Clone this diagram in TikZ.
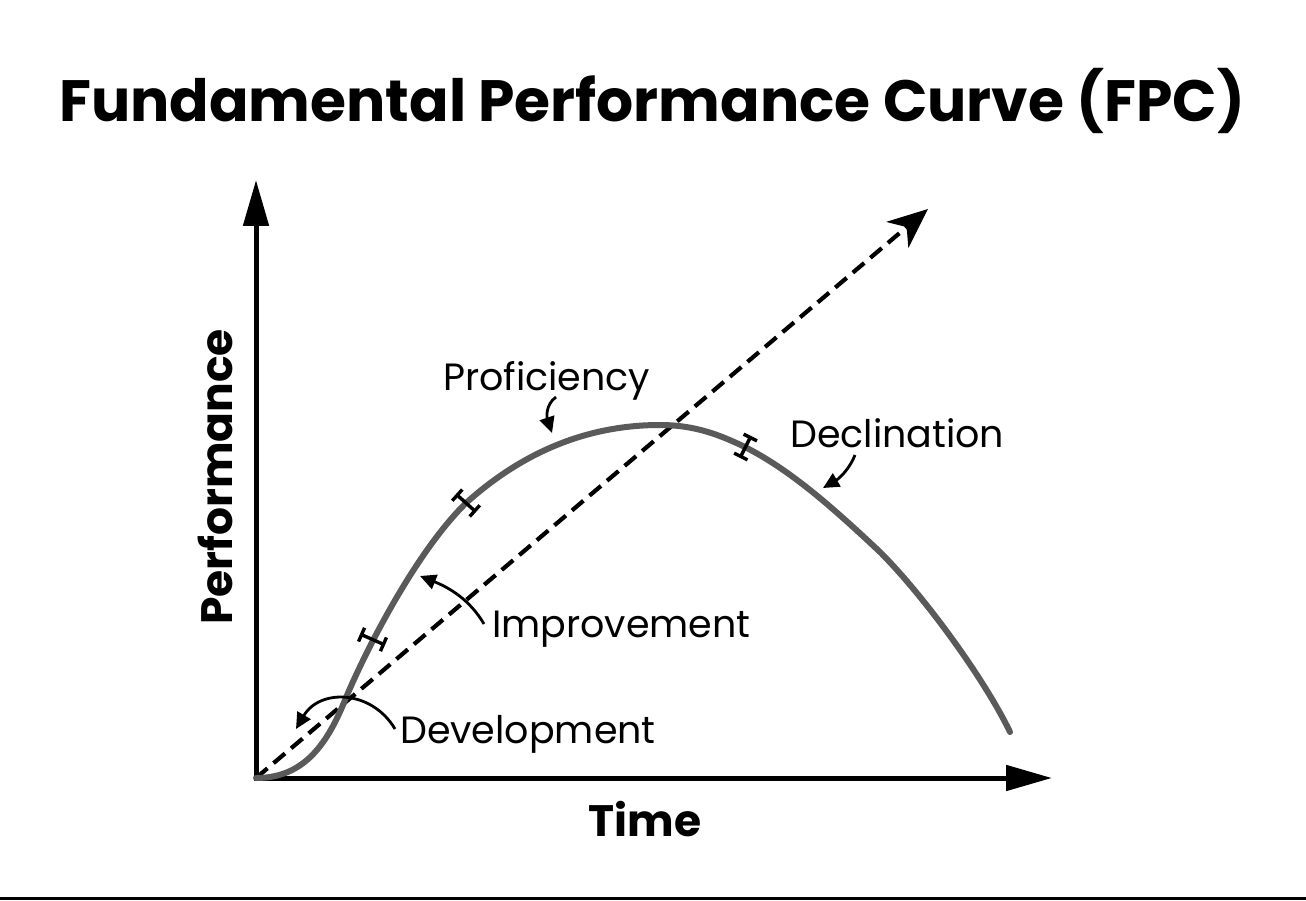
\documentclass[tikz,border=0pt]{standalone}
\usepackage{fontspec}
\setmainfont{Poppins}
\usetikzlibrary{arrows.meta,calc}
\definecolor{curvegray}{HTML}{5A5A5A}
\begin{document}
\begin{tikzpicture}[x=1pt,y=-1pt,
  axis/.style={line width=5pt,-{Triangle[length=46pt,width=25pt]}},
  trend/.style={line width=4.2pt,dash pattern=on 15pt off 8pt,-{Stealth[length=40pt,width=34pt,inset=12pt]}},
  fpc/.style={line width=6pt,curvegray,line cap=round,line join=round},
  tickbar/.style={line width=3.4pt,{Bar[width=15pt,line width=3.4pt]}-{Bar[width=15pt,line width=3.4pt]}},
  pointer/.style={line width=2.8pt,-{Triangle[length=16pt,width=15pt]}},
  lbl/.style={inner sep=0pt,font=\fontsize{38}{46}\selectfont},
  axlbl/.style={inner sep=0pt,font=\fontsize{44}{52}\selectfont\bfseries},
]
\useasboundingbox (0,0) rectangle (1306,901);
\fill[white] (0,0) rectangle (1306,901);
% title
\node[inner sep=0pt,anchor=base,font=\fontsize{58.3}{68}\selectfont\bfseries] (title) at (652,122) {Fundamental Performance Curve (FPC)};
% bottom rule
\draw[line width=3pt] (0,898.5) -- (1306,898.5);
% axes
\coordinate (O) at (256,778);
\coordinate (ytip) at (256,180);
\coordinate (xtip) at (1052,778);
\coordinate (dtip) at (928,209);
\draw[axis] (256,780.5) -- (ytip);
\draw[axis] (253.5,778) -- (xtip);
\node[axlbl,anchor=base] (time) at (645,836) {Time};
\node[axlbl,anchor=base,rotate=90] (perf) at (232,477) {Performance};
% trend line
\draw[trend] (O) -- (dtip);
% curve
\coordinate (A) at (256,778);
\coordinate (B) at (345,700);
\coordinate (C) at (466,503);
\coordinate (D) at (660,425);
\coordinate (E) at (745,447);
\coordinate (F) at (880,552);
\coordinate (G) at (1010,732);
\draw[fpc] (A) .. controls (300,778) and (325,750) .. (B)
  .. controls (365,652) and (415,553) .. (C)
  .. controls (525,450) and (590,425) .. (D)
  .. controls (695,425) and (720,435) .. (E)
  .. controls (790,470) and (830,505) .. (F)
  .. controls (925,597) and (985,680) .. (G);
% ticks
\draw[tickbar] (360,634) -- (385,645);
\draw[tickbar] (456,494) -- (476,512);
\draw[tickbar] (751,436) -- (740,458);
% labels
\node[lbl,anchor=base west] (prof) at (443,390) {Proficiency};
\node[lbl,anchor=base west] (decl) at (790,447) {Declination};
\node[lbl,anchor=base west] (impr) at (492,637) {Improvement};
\node[lbl,anchor=base west] (dev) at (400,743) {Development};
% pointers
\draw[pointer] (556,397) .. controls (545,405) and (547,418) .. (552,433);
\draw[pointer] (855,455) .. controls (850,468) and (840,478) .. (823,488);
\draw[pointer] (484,624) .. controls (470,600) and (450,588) .. (420,576);
\draw[pointer] (395,729) .. controls (372,690) and (320,688) .. (296,729);
\end{tikzpicture}
\end{document}
